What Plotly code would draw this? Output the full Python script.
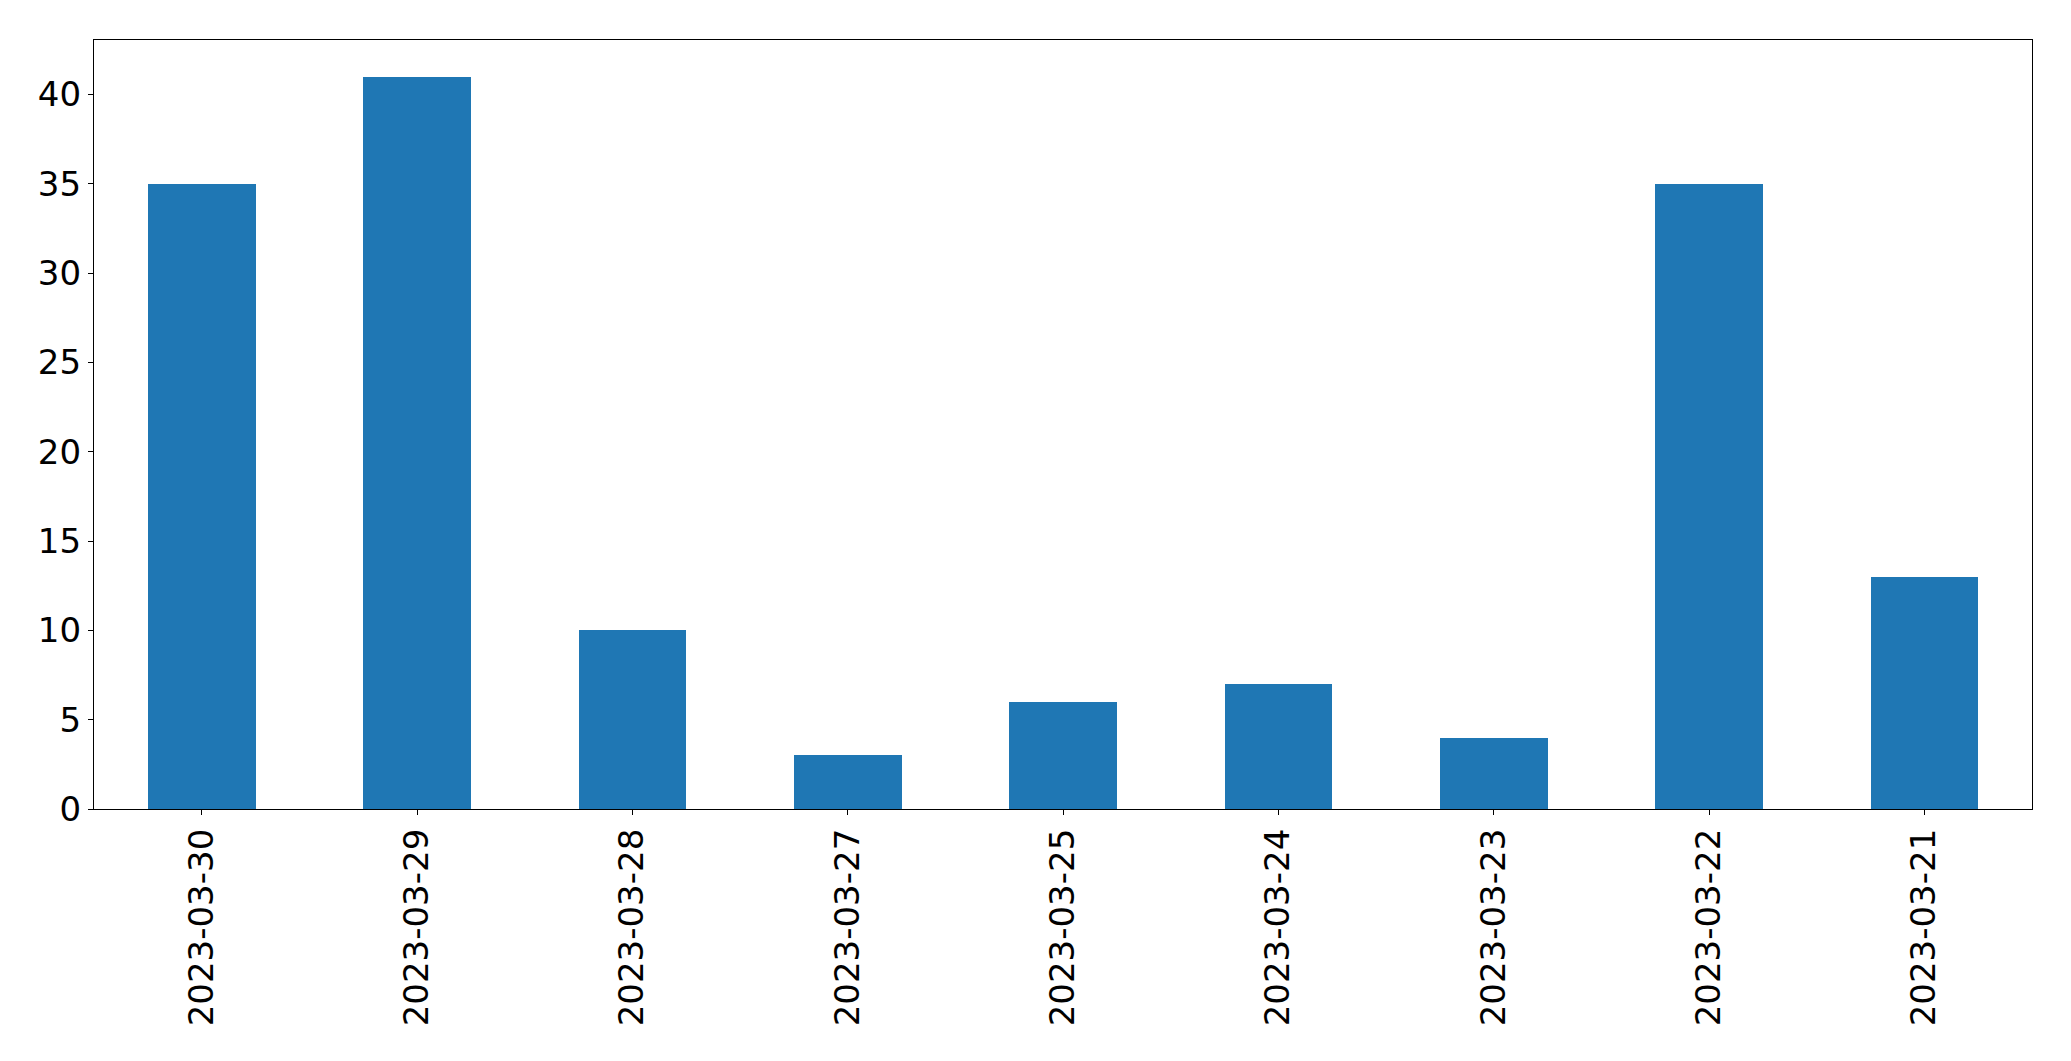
import plotly.graph_objects as go

dates = ["2023-03-30", "2023-03-29", "2023-03-28", "2023-03-27", "2023-03-25",
         "2023-03-24", "2023-03-23", "2023-03-22", "2023-03-21"]
counts = [35, 41, 10, 3, 6, 7, 4, 35, 13]
y_ticks = [0, 5, 10, 15, 20, 25, 30, 35, 40]

fig = go.Figure()
fig.add_trace(go.Bar(x=dates, y=counts, width=0.5, marker=dict(color="#1f77b4", line=dict(width=0))))

fig.update_layout(
    width=2055, height=1045,
    margin=dict(l=86, r=31, t=32, b=244),
    plot_bgcolor="white", paper_bgcolor="white",
    font=dict(family="DejaVu Sans", size=34, color="black"),
    showlegend=False,
    bargap=0,
)
fig.update_xaxes(
    type="category", range=[-0.5, 8.5],
    showline=True, linecolor="black", linewidth=1.3, mirror=True,
    ticks="outside", ticklen=5, tickwidth=1.3, tickcolor="black",
    tickangle=-90, showgrid=False, zeroline=False,
)
fig.update_yaxes(
    range=[0, 43.05], tickvals=y_ticks,
    showline=True, linecolor="black", linewidth=1.3, mirror=True,
    ticks="outside", ticklen=5, tickwidth=1.3, tickcolor="black",
    showgrid=False, zeroline=False,
)

fig.write_html("out.html")
